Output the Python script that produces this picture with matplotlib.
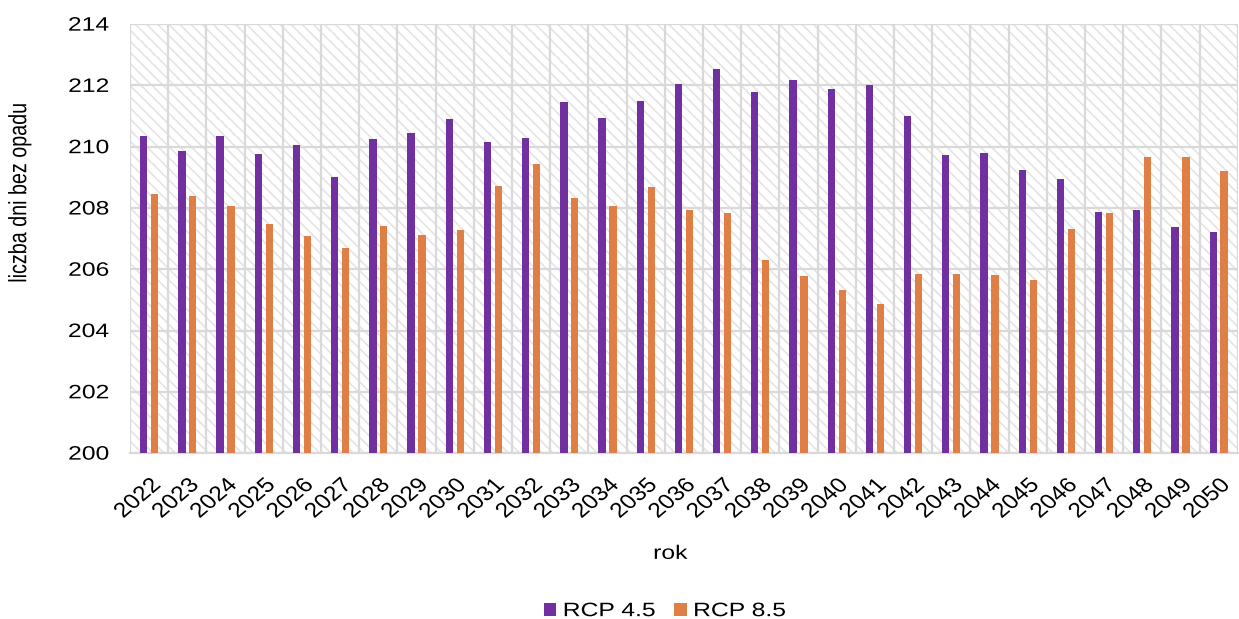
import numpy as np
import matplotlib.pyplot as plt
from matplotlib.patches import Rectangle
from matplotlib.patheffects import AbstractPathEffect
from matplotlib.transforms import Affine2D

plt.rcParams['font.family'] = ['Liberation Sans', 'DejaVu Sans']
plt.rcParams['hatch.linewidth'] = 1.2

# liczba dni bez opadu w latach 2022-2050
lata = list(range(2022, 2051))
rcp45 = [210.35, 209.85, 210.35, 209.75, 210.05, 209.0, 210.25, 210.45, 210.9, 210.15,
         210.3, 211.45, 210.95, 211.5, 212.06, 212.52, 211.79, 212.19, 211.88, 212.03,
         211.0, 209.72, 209.8, 209.25, 208.94, 207.87, 207.95, 207.38, 207.2]
rcp85 = [208.45, 208.4, 208.08, 207.48, 207.1, 206.7, 207.4, 207.13, 207.28, 208.72,
         209.42, 208.33, 208.05, 208.7, 207.92, 207.85, 206.3, 205.79, 205.32, 204.86,
         205.83, 205.85, 205.8, 205.65, 207.31, 207.82, 209.67, 209.67, 209.2]
serie = ['RCP 4.5', 'RCP 8.5']

fiolet = '#7030a0'
pomarancz = '#e07f45'
siatka = '#d9d9d9'


class Rozciagniecie(AbstractPathEffect):
    """Rozciaga napis w poziomie wokol punktu (fx, fy) jego obrysu."""

    def __init__(self, sx, fx=0.5, fy=0.5):
        super().__init__()
        self.sx, self.fx, self.fy = sx, fx, fy

    def draw_path(self, renderer, gc, tpath, affine, rgbFace=None):
        e = tpath.get_extents()
        px = e.x0 + self.fx * (e.x1 - e.x0)
        py = e.y0 + self.fy * (e.y1 - e.y0)
        dx, dy = affine.transform((px, py))
        t = affine + Affine2D().translate(-dx, -dy).scale(self.sx, 1).translate(dx, dy)
        renderer.draw_path(gc, tpath, t, rgbFace)


SX = 1.27
fs = 14

fig = plt.figure(figsize=(12.39, 6.19), dpi=100)
ax = fig.add_axes([0.105, 0.268, 0.894, 0.693])

x = np.arange(len(lata))
w = 0.19
ax.bar(x - 0.143, np.array(rcp45) - 200, bottom=200, width=w, color=fiolet, label=serie[0], zorder=3)
ax.bar(x + 0.143, np.array(rcp85) - 200, bottom=200, width=w, color=pomarancz, label=serie[1], zorder=3)

# tlo w ukosne paski
ax.add_patch(Rectangle((0, 0), 1, 1, transform=ax.transAxes, facecolor='white',
                       edgecolor='#e4e4e4', hatch='\\\\\\', linewidth=0, zorder=0))

ax.set_xlim(-0.5, len(lata) - 0.5)
ax.set_ylim(200, 214)
ax.set_yticks(range(200, 215, 2))
ax.set_xticks(x)
ax.set_xticklabels([str(r) for r in lata], rotation=45, ha='right', rotation_mode='anchor')
ax.tick_params(axis='both', length=0, labelsize=fs)
ax.tick_params(axis='x', pad=16, labelsize=15)
ax.tick_params(axis='y', pad=15)
for t in ax.get_yticklabels():
    t.set_path_effects([Rozciagniecie(SX, 1.0, 0.5)])
for t in ax.get_xticklabels():
    t.set_path_effects([Rozciagniecie(1.18, 1.0, 1.0)])

ax.set_xticks(np.arange(-0.5, len(lata)), minor=True)
ax.tick_params(axis='x', which='minor', length=0)
ax.grid(True, which='minor', axis='x', color=siatka, linewidth=1.6, zorder=1)
ax.grid(True, which='major', axis='y', color=siatka, linewidth=1.6, zorder=1)
ax.grid(False, which='major', axis='x')

for s in ['top', 'right', 'left']:
    ax.spines[s].set_visible(False)
ax.spines['bottom'].set_color(siatka)
ax.spines['bottom'].set_linewidth(1.6)

ax.set_xlabel('rok', fontsize=fs, va='center', ha='center',
              path_effects=[Rozciagniecie(SX)])
ax.xaxis.set_label_coords(0.488, -0.236)
ax.set_ylabel('liczba dni bez opadu', fontsize=14.2, va='center', ha='center',
              path_effects=[Rozciagniecie(SX)])
ax.yaxis.set_label_coords(-0.100, 0.608)

leg = fig.legend(loc='center', bbox_to_anchor=(0.529, 0.012), ncol=2, frameon=False,
                 fontsize=fs, handlelength=0.62, handleheight=0.62, handletextpad=0.36,
                 columnspacing=1.95)
for t in leg.get_texts():
    t.set_path_effects([Rozciagniecie(SX, 0.0, 0.5)])

fig.savefig('out.png', dpi=100)
